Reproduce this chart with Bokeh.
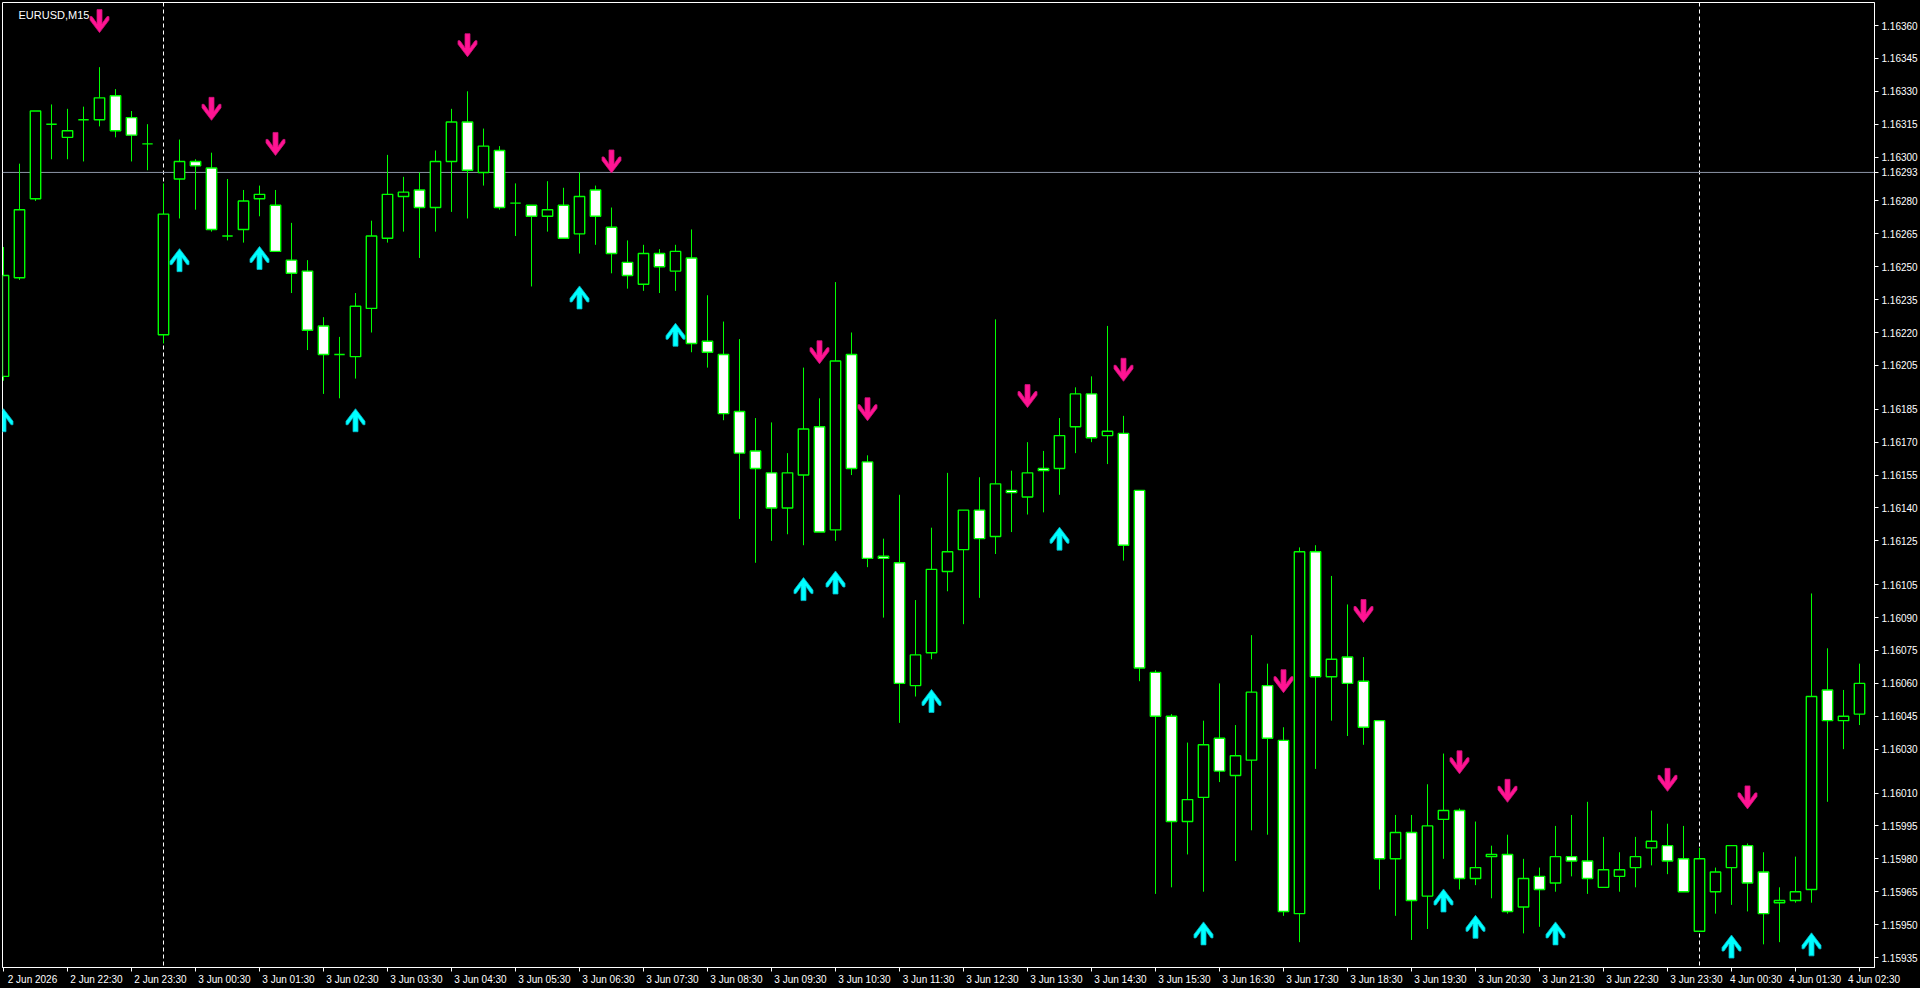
from bokeh.plotting import figure
from bokeh.models import (Range1d, FixedTicker, PrintfTickFormatter, CustomJSTickFormatter,
                          Span, Label, LinearAxis, ColumnDataSource, GlobalInlineStyleSheet)
from bokeh.embed import file_html
from bokeh.resources import INLINE

# ---------------- data (EURUSD M15, bar 0 = 2 Jun 21:30) ----------------
opens = [1.16200, 1.16245, 1.16281, 1.16315, 1.16309, 1.16317, 1.16317, 1.16328, 1.16318, 1.16306,
         1.16219, 1.16290, 1.16298, 1.16295, 1.16264, 1.16267, 1.16281, 1.16278, 1.16253, 1.16248,
         1.16223, 1.16210, 1.16209, 1.16231, 1.16263, 1.16282, 1.16285, 1.16277, 1.16298, 1.16316,
         1.16293, 1.16303, 1.16279, 1.16278, 1.16273, 1.16278, 1.16265, 1.16285, 1.16268, 1.16252,
         1.16242, 1.16256, 1.16248, 1.16254, 1.16216, 1.16210, 1.16184, 1.16166, 1.16156, 1.16140,
         1.16155, 1.16177, 1.16130, 1.16210, 1.16161, 1.16118, 1.16115, 1.16059, 1.16074, 1.16111,
         1.16121, 1.16139, 1.16127, 1.16148, 1.16145, 1.16158, 1.16158, 1.16177, 1.16192, 1.16173,
         1.16174, 1.16148, 1.16065, 1.16045, 1.15997, 1.16008, 1.16035, 1.16018, 1.16025, 1.16059,
         1.16034, 1.15955, 1.16120, 1.16063, 1.16072, 1.16061, 1.16043, 1.15980, 1.15992, 1.15963,
         1.15998, 1.16002, 1.15971, 1.15981, 1.15982, 1.15958, 1.15972, 1.15969, 1.15981, 1.15979,
         1.15967, 1.15972, 1.15976, 1.15985, 1.15986, 1.15980, 1.15947, 1.15965, 1.15976, 1.15986,
         1.15974, 1.15960, 1.15961, 1.15966, 1.16057, 1.16043, 1.16046]
highs = [1.16259, 1.16297, 1.16321, 1.16324, 1.16322, 1.16323, 1.16341, 1.16331, 1.16321, 1.16315,
         1.16288, 1.16308, 1.16299, 1.16302, 1.16290, 1.16285, 1.16287, 1.16285, 1.16270, 1.16253,
         1.16227, 1.16218, 1.16238, 1.16271, 1.16301, 1.16291, 1.16293, 1.16303, 1.16322, 1.16330,
         1.16313, 1.16305, 1.16288, 1.16278, 1.16289, 1.16286, 1.16293, 1.16287, 1.16277, 1.16262,
         1.16260, 1.16258, 1.16260, 1.16267, 1.16237, 1.16225, 1.16217, 1.16181, 1.16179, 1.16165,
         1.16204, 1.16190, 1.16243, 1.16220, 1.16164, 1.16126, 1.16146, 1.16098, 1.16131, 1.16156,
         1.16139, 1.16154, 1.16226, 1.16157, 1.16170, 1.16166, 1.16181, 1.16195, 1.16200, 1.16223,
         1.16182, 1.16148, 1.16066, 1.16046, 1.16033, 1.16043, 1.16060, 1.16041, 1.16082, 1.16069,
         1.16040, 1.16122, 1.16123, 1.16109, 1.16096, 1.16072, 1.16043, 1.16000, 1.16000, 1.16014,
         1.16028, 1.16003, 1.15997, 1.15986, 1.15991, 1.15980, 1.15976, 1.15995, 1.16000, 1.16006,
         1.15990, 1.15983, 1.15990, 1.16002, 1.15996, 1.15995, 1.15985, 1.15976, 1.15986, 1.15987,
         1.15983, 1.15967, 1.15981, 1.16101, 1.16076, 1.16057, 1.16069]
lows = [1.16198, 1.16244, 1.16280, 1.16299, 1.16299, 1.16298, 1.16314, 1.16309, 1.16298, 1.16294,
        1.16215, 1.16272, 1.16276, 1.16266, 1.16262, 1.16261, 1.16273, 1.16257, 1.16238, 1.16212,
        1.16192, 1.16190, 1.16199, 1.16220, 1.16261, 1.16266, 1.16254, 1.16266, 1.16275, 1.16272,
        1.16287, 1.16276, 1.16264, 1.16241, 1.16266, 1.16263, 1.16256, 1.16260, 1.16247, 1.16240,
        1.16239, 1.16238, 1.16239, 1.16211, 1.16204, 1.16180, 1.16135, 1.16115, 1.16125, 1.16128,
        1.16123, 1.16129, 1.16125, 1.16155, 1.16113, 1.16090, 1.16042, 1.16054, 1.16071, 1.16102,
        1.16087, 1.16099, 1.16119, 1.16129, 1.16137, 1.16138, 1.16146, 1.16165, 1.16170, 1.16160,
        1.16116, 1.16061, 1.15964, 1.15967, 1.15982, 1.15965, 1.16015, 1.15979, 1.15993, 1.15991,
        1.15954, 1.15942, 1.16021, 1.16043, 1.16036, 1.16032, 1.15966, 1.15954, 1.15943, 1.15948,
        1.15980, 1.15966, 1.15968, 1.15962, 1.15955, 1.15946, 1.15949, 1.15965, 1.15972, 1.15964,
        1.15967, 1.15965, 1.15967, 1.15977, 1.15973, 1.15965, 1.15947, 1.15955, 1.15959, 1.15956,
        1.15941, 1.15942, 1.15960, 1.15960, 1.16006, 1.16030, 1.16041]
closes = [1.16246, 1.16276, 1.16321, 1.16315, 1.16312, 1.16317, 1.16327, 1.16312, 1.16310, 1.16306,
          1.16274, 1.16298, 1.16296, 1.16267, 1.16264, 1.16280, 1.16283, 1.16257, 1.16247, 1.16221,
          1.16210, 1.16210, 1.16232, 1.16264, 1.16283, 1.16284, 1.16277, 1.16298, 1.16316, 1.16294,
          1.16305, 1.16277, 1.16279, 1.16273, 1.16276, 1.16263, 1.16282, 1.16273, 1.16256, 1.16246,
          1.16256, 1.16250, 1.16257, 1.16215, 1.16211, 1.16183, 1.16165, 1.16158, 1.16140, 1.16156,
          1.16176, 1.16129, 1.16207, 1.16158, 1.16117, 1.16117, 1.16060, 1.16073, 1.16112, 1.16120,
          1.16139, 1.16126, 1.16151, 1.16147, 1.16156, 1.16157, 1.16173, 1.16192, 1.16172, 1.16175,
          1.16123, 1.16067, 1.16045, 1.15997, 1.16007, 1.16032, 1.16020, 1.16027, 1.16056, 1.16035,
          1.15956, 1.16120, 1.16063, 1.16071, 1.16060, 1.16040, 1.15980, 1.15992, 1.15961, 1.15995,
          1.16002, 1.15971, 1.15976, 1.15982, 1.15956, 1.15971, 1.15966, 1.15981, 1.15979, 1.15971,
          1.15975, 1.15975, 1.15981, 1.15988, 1.15979, 1.15965, 1.15980, 1.15974, 1.15986, 1.15969,
          1.15955, 1.15961, 1.15965, 1.16054, 1.16043, 1.16045, 1.16060]

# signal arrows: bar index and price of the arrow centre
down_arrow_bars = [6, 13, 17, 29, 38, 51, 54, 64, 70, 80, 85, 91, 94, 104, 109]
down_arrow_prices = [1.16362, 1.16322, 1.16306, 1.16351, 1.16298, 1.16211, 1.16185, 1.16191,
                     1.16203, 1.16061, 1.16093, 1.16024, 1.16011, 1.16016, 1.16008]
up_arrow_bars = [0, 11, 16, 22, 36, 42, 50, 52, 58, 66, 75, 90, 92, 97, 108, 113]
up_arrow_prices = [1.16180, 1.16253, 1.16254, 1.16180, 1.16236, 1.16219, 1.16103, 1.16106,
                   1.16052, 1.16126, 1.15946, 1.15961, 1.15949, 1.15946, 1.15940, 1.15941]

current_price = 1.16293
day_separator_bars = [10, 106]

price_ticks = [1.16360, 1.16345, 1.16330, 1.16315, 1.16300, 1.16280, 1.16265, 1.16250, 1.16235,
               1.16220, 1.16205, 1.16185, 1.16170, 1.16155, 1.16140, 1.16125, 1.16105, 1.16090,
               1.16075, 1.16060, 1.16045, 1.16030, 1.16010, 1.15995, 1.15980, 1.15965, 1.15950,
               1.15935]
time_tick_bars = [0, 4, 8, 12, 16, 20, 24, 28, 32, 36, 40, 44, 48, 52, 56, 60, 64, 68, 72, 76,
                  80, 84, 88, 92, 96, 100, 104, 108, 112, 116]
time_tick_labels = ["2 Jun 2026", "2 Jun 22:30", "2 Jun 23:30", "3 Jun 00:30", "3 Jun 01:30",
                    "3 Jun 02:30", "3 Jun 03:30", "3 Jun 04:30", "3 Jun 05:30", "3 Jun 06:30",
                    "3 Jun 07:30", "3 Jun 08:30", "3 Jun 09:30", "3 Jun 10:30", "3 Jun 11:30",
                    "3 Jun 12:30", "3 Jun 13:30", "3 Jun 14:30", "3 Jun 15:30", "3 Jun 16:30",
                    "3 Jun 17:30", "3 Jun 18:30", "3 Jun 19:30", "3 Jun 20:30", "3 Jun 21:30",
                    "3 Jun 22:30", "3 Jun 23:30", "4 Jun 00:30", "4 Jun 01:30", "4 Jun 02:30"]
chart_title = "EURUSD,M15"

# ---------------- styling / layout ----------------
WIDTH, HEIGHT = 1920, 988
BORDER_L, BORDER_T, BORDER_R, BORDER_B = 2, 2, 46, 21
FRAME_W = WIDTH - BORDER_L - BORDER_R
FRAME_H = HEIGHT - BORDER_T - BORDER_B
X0, X1 = -0.0625, 116.9375
Y0, Y1 = 1.1593044, 1.1637049
FONT = "Liberation Sans"
GREEN = "#00ff00"
LABEL_PX = 10
LABEL_EM = 5.6           # approx. rendered width of "3 Jun 00:30" in em

p = figure(width=WIDTH, height=HEIGHT,
           x_range=Range1d(X0, X1), y_range=Range1d(Y0, Y1),
           output_backend="svg", toolbar_location=None, y_axis_location="right",
           background_fill_color="black", border_fill_color="black",
           min_border_left=BORDER_L, min_border_top=BORDER_T,
           min_border_right=BORDER_R, min_border_bottom=BORDER_B)
p.stylesheets = [GlobalInlineStyleSheet(css="html, body { background-color: #000000; }")]
p.grid.visible = False
p.outline_line_color = "white"
p.outline_line_width = 1

# price axis (right); the current price is shown on the scale too
ya = p.yaxis[0]
ya.ticker = FixedTicker(ticks=price_ticks + [current_price])
ya.formatter = PrintfTickFormatter(format="%.5f")
ya.axis_line_color = "white"
ya.major_tick_line_color = "white"
ya.major_tick_out = 4
ya.major_tick_in = 0
ya.minor_tick_line_color = None
ya.major_label_text_color = "white"
ya.major_label_text_font = FONT
ya.major_label_text_font_size = "10px"
ya.major_label_standoff = 3

# time axis: tick marks
xa = p.xaxis[0]
xa.ticker = FixedTicker(ticks=time_tick_bars)
xa.formatter = CustomJSTickFormatter(code="return ''")
xa.axis_line_color = "white"
xa.major_tick_line_color = "white"
xa.major_tick_out = 4
xa.major_tick_in = 0
xa.minor_tick_line_color = None
xa.major_label_text_font_size = "1px"
xa.major_label_standoff = 0

# time axis: labels that start at their tick (MetaTrader style); the last ones are
# nudged left so they stay inside the time scale without overlapping
px_x = FRAME_W / (X1 - X0)
half_w = LABEL_EM * LABEL_PX / 2 / px_x
label_pos = [b + half_w + 1 / px_x for b in time_tick_bars]
label_pos[-1] = min(label_pos[-1], X1 - 0.03)
for k in range(len(label_pos) - 2, -1, -1):
    label_pos[k] = min(label_pos[k], label_pos[k + 1] - 2 * half_w - 3 / px_x)

lab_axis = LinearAxis(
    ticker=FixedTicker(ticks=label_pos),
    formatter=CustomJSTickFormatter(args=dict(pos=label_pos, labels=time_tick_labels),
                                    code="const i = pos.indexOf(tick); return i >= 0 ? labels[i] : '';"),
    axis_line_color=None, major_tick_line_color=None, minor_tick_line_color=None,
    major_tick_out=0, major_tick_in=0, major_label_standoff=2,
    major_label_text_color="white", major_label_text_font=FONT,
    major_label_text_font_size=f"{LABEL_PX}px")
p.add_layout(lab_axis, "below")

# background lines
for b in day_separator_bars:
    p.add_layout(Span(location=b, dimension="height", line_color="white",
                      line_dash="4 3", line_width=1, level="underlay"))
p.add_layout(Span(location=current_price, dimension="width", line_color="#8d96a7",
                  line_width=1, level="underlay"))

# candles
n = len(opens)
bars = list(range(n))
src = ColumnDataSource(dict(
    x=bars, high=highs, low=lows,
    top=[max(o, c) for o, c in zip(opens, closes)],
    bottom=[min(o, c) for o, c in zip(opens, closes)],
    fill=["#ffffff" if c < o else "#000000" for o, c in zip(opens, closes)],
))
p.segment(x0="x", y0="low", x1="x", y1="high", source=src, line_color=GREEN, line_width=1)
p.vbar(x="x", width=0.65, top="top", bottom="bottom", fill_color="fill",
       line_color=GREEN, line_width=1.4, source=src)

# arrows (shape in pixels, anchored on data points)
px_y = FRAME_H / (Y1 - Y0)
ARROW = [(-2.5, -11.5), (2.5, -11.5), (2.5, 2.5), (7.5, -4.5), (9.5, -4.5), (9.5, -1.0),
         (0.0, 11.5), (-9.5, -1.0), (-9.5, -4.5), (-7.5, -4.5), (-2.5, 2.5)]

def arrow_polys(bx, py, sign):
    xs, ys = [], []
    for b, pr in zip(bx, py):
        xs.append([b + dx / px_x for dx, dy in ARROW])
        ys.append([pr - sign * dy / px_y for dx, dy in ARROW])
    return xs, ys

dxs, dys = arrow_polys(down_arrow_bars, down_arrow_prices, 1)
uxs, uys = arrow_polys(up_arrow_bars, up_arrow_prices, -1)
p.patches(dxs, dys, fill_color="#ff1493", line_color="#d0107a", line_width=0.8)
p.patches(uxs, uys, fill_color="#00ffff", line_color="#00b8c8", line_width=0.8)

# chart title
p.add_layout(Label(x=16, y=FRAME_H - 6, x_units="screen", y_units="screen", text=chart_title,
                   text_color="white", text_font=FONT, text_font_size="11px",
                   text_baseline="top"))

open("out.html", "w").write(file_html(p, INLINE))
